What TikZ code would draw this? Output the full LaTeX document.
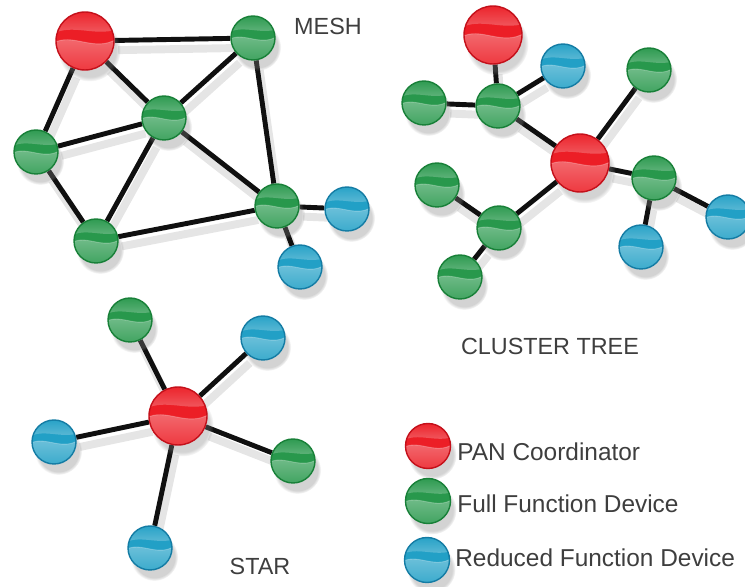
\documentclass[tikz,border=0pt]{standalone}
\usepackage{fontspec}
\setmainfont{Liberation Sans}
\usetikzlibrary{shadows,fadings,backgrounds}
\definecolor{PanBody}{RGB}{236,30,38}
\definecolor{PanEdge}{RGB}{196,16,26}
\definecolor{FfdBody}{RGB}{40,152,76}
\definecolor{FfdEdge}{RGB}{24,128,56}
\definecolor{RfdBody}{RGB}{34,160,198}
\definecolor{RfdEdge}{RGB}{20,124,164}
\definecolor{Wire}{RGB}{16,16,16}
\definecolor{Caption}{RGB}{62,62,62}

% gloss on a ball: #1 body colour, #2 radius
\newcommand\glint[2]{%
  \begin{scope}[shift={(path picture bounding box.center)},x=#2,y=#2]
    \shade[top color=#1!62!white,bottom color=#1!90!white] (-1.1,-0.08) .. controls (-0.45,0.32) and (0.35,-0.42) .. (1.1,0.08) -- (1.1,-1.1) -- (-1.1,-1.1) -- cycle;
    \fill[white,opacity=.3,path fading=north] (-1.1,0.25) .. controls (-0.45,0.6) and (0.35,0.15) .. (1.1,0.4) -- (1.1,1.1) -- (-1.1,1.1) -- cycle;
    \draw[white,opacity=.25,line width=.5pt] (-1.1,-0.08) .. controls (-0.45,0.32) and (0.35,-0.42) .. (1.1,0.08);
  \end{scope}}

\tikzset{
  ball/.style 2 args={circle,inner sep=0pt,line width=.8pt,draw=#1Edge,fill=#1Body,minimum size=2*#2,
    circular drop shadow={shadow xshift=.08cm,shadow yshift=-.17cm,shadow scale=1.08,opacity=.35},path picture={\glint{#1Body}{#2}}},
  coordinator/.style={ball={Pan}{.58cm}},
  fullDev/.style={ball={Ffd}{.44cm}},
  reducedDev/.style={ball={Rfd}{.44cm}},
  wire/.style={draw=Wire,line width=2.8pt,
    preaction={draw=black,opacity=.1,line width=4.5pt,transform canvas={shift={(2pt,-5.5pt)}}}},
  caption/.style={font=\fontsize{13.3}{16}\selectfont,text=Caption,inner sep=0pt},
  legendText/.style={caption,font=\fontsize{13.9}{16}\selectfont,anchor=west}
}

\begin{document}
\begin{tikzpicture}[x=0.02cm,y=-0.02cm]
  \useasboundingbox (0,0) rectangle (745,587);
  \node[coordinator] (meshPan) at (85,41) {};
  \node[fullDev] (meshTop) at (253,38) {};
  \node[fullDev] (meshMid) at (164,118) {};
  \node[fullDev] (meshLeft) at (36,152) {};
  \node[fullDev] (meshLow) at (96,241) {};
  \node[fullDev] (meshRight) at (277,206) {};
  \node[reducedDev] (meshEndA) at (347,209) {};
  \node[reducedDev] (meshEndB) at (300,267) {};
  \node[caption] (meshLabel) at (328,26) {MESH};

  \node[coordinator] (treePanTop) at (493,35) {};
  \node[reducedDev] (treeRfdTop) at (563,66) {};
  \node[fullDev] (treeFfdLeft) at (424,103) {};
  \node[fullDev] (treeFfdHub) at (498,106) {};
  \node[fullDev] (treeFfdUp) at (649,70) {};
  \node[coordinator] (treePan) at (580,163) {};
  \node[fullDev] (treeFfdRight) at (654,178) {};
  \node[reducedDev] (treeRfdFar) at (728,217) {};
  \node[reducedDev] (treeRfdLow) at (641,247) {};
  \node[fullDev] (treeFfdSide) at (437,185) {};
  \node[fullDev] (treeFfdHubB) at (499,228) {};
  \node[fullDev] (treeFfdLow) at (460,277) {};
  \node[caption] (treeLabel) at (550,346) {CLUSTER TREE};

  \node[coordinator] (starPan) at (178,416) {};
  \node[fullDev] (starFfdTop) at (130,320) {};
  \node[reducedDev] (starRfdTop) at (263,338) {};
  \node[reducedDev] (starRfdLeft) at (54,442) {};
  \node[fullDev] (starFfdRight) at (293,461) {};
  \node[reducedDev] (starRfdLow) at (150,548) {};
  \node[caption] (starLabel) at (260,566) {STAR};

  \node[ball={Pan}{.45cm}] (keyPan) at (428,446) {};
  \node[ball={Ffd}{.45cm}] (keyFfd) at (428,501) {};
  \node[ball={Rfd}{.45cm}] (keyRfd) at (427,560) {};
  \node[legendText] (keyPanText) at (457,452) {PAN Coordinator};
  \node[legendText] (keyFfdText) at (457,504) {Full Function Device};
  \node[legendText] (keyRfdText) at (455,558) {Reduced Function Device};

  \begin{scope}[on background layer]
    \draw[wire] (meshPan) -- (meshTop) -- (meshRight) -- (meshLow) -- (meshLeft) -- (meshPan) -- (meshMid) -- (meshTop);
    \draw[wire] (meshLeft) -- (meshMid) -- (meshLow) (meshMid) -- (meshRight) -- (meshEndA) (meshRight) -- (meshEndB);
    \draw[wire] (treePanTop) -- (treeFfdHub) -- (treeFfdLeft) (treeFfdHub) -- (treeRfdTop) (treeFfdHub) -- (treePan) -- (treeFfdUp);
    \draw[wire] (treePan) -- (treeFfdRight) -- (treeRfdFar) (treeFfdRight) -- (treeRfdLow);
    \draw[wire] (treePan) -- (treeFfdHubB) -- (treeFfdSide) (treeFfdHubB) -- (treeFfdLow);
    \draw[wire] (starPan) -- (starFfdTop) (starPan) -- (starRfdTop) (starPan) -- (starRfdLeft) (starPan) -- (starFfdRight) (starPan) -- (starRfdLow);
  \end{scope}
\end{tikzpicture}
\end{document}
